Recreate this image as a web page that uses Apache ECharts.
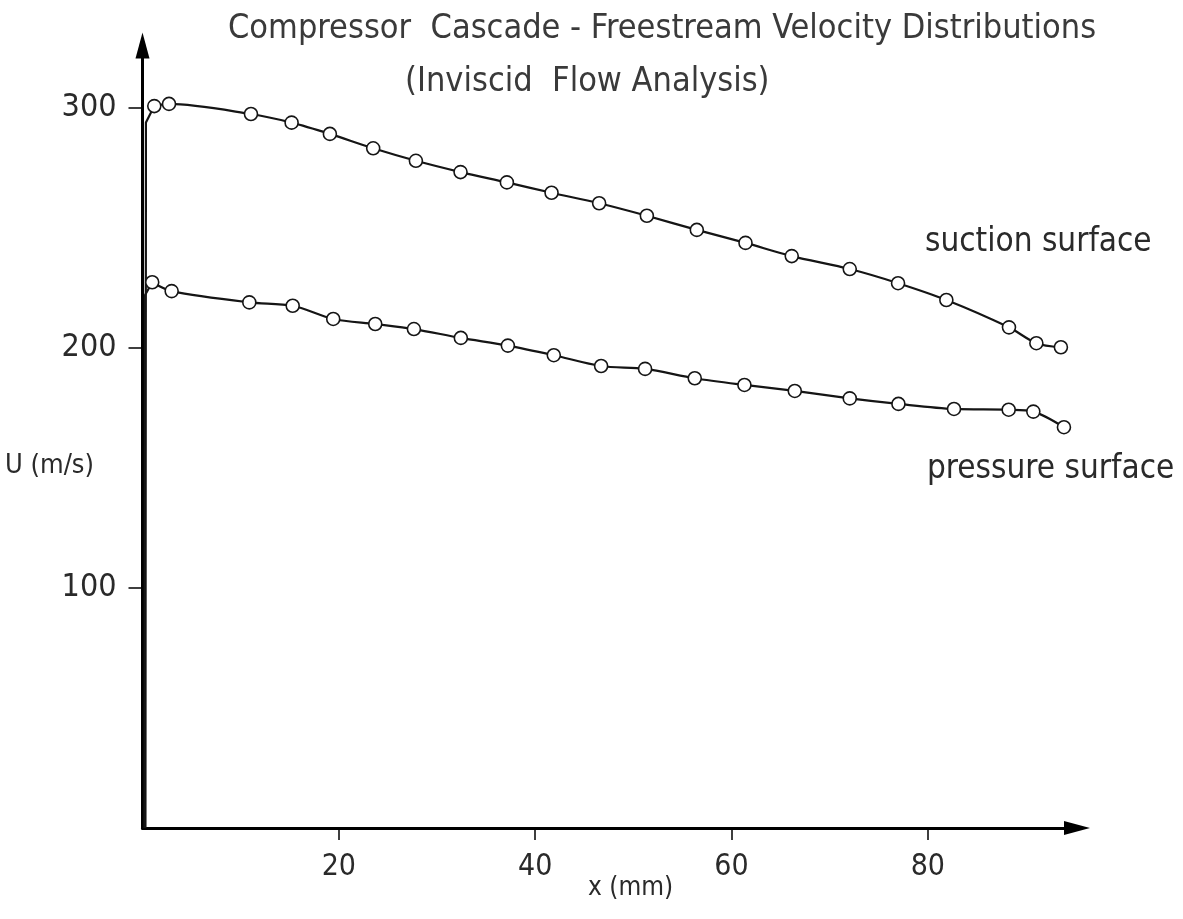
<!DOCTYPE html>
<html>
<head>
<meta charset="utf-8">
<script src="https://cdn.jsdelivr.net/npm/echarts@6/dist/echarts.min.js"></script>
<style>
html,body{margin:0;padding:0;background:#fff;}
#chart{width:1183px;height:919px;}
</style>
</head>
<body>
<div id="chart"></div>
<script>
// ---- data (x in mm, U in m/s) ----
const suctionX = [1.2, 2.7, 11.05, 15.19, 19.09, 23.5, 27.85, 32.4, 37.12, 41.67, 46.52, 51.38, 56.47, 61.43, 66.14, 72.05, 76.97, 81.89, 88.27, 91.06, 93.56];
const suctionU = [300.8, 301.7, 297.5, 293.9, 289.2, 283.2, 278.0, 273.3, 269.0, 264.7, 260.3, 255.1, 249.2, 243.8, 238.3, 232.9, 227.0, 220.0, 208.6, 202.0, 200.3];
const pressureX = [0.99, 2.97, 10.88, 15.3, 19.43, 23.71, 27.65, 32.43, 37.22, 41.9, 46.72, 51.2, 56.26, 61.32, 66.45, 72.05, 77.01, 82.67, 88.24, 90.75, 93.87];
const pressureU = [227.4, 223.7, 219.0, 217.6, 212.1, 210.0, 207.9, 204.2, 201.0, 197.0, 192.5, 191.3, 187.4, 184.6, 182.1, 179.0, 176.7, 174.6, 174.3, 173.5, 167.0];
// leading-edge (stagnation) segments, no markers
const suctionLEX = [0.3, 0.35, 1.2];
const suctionLEU = [0, 294, 300.8];
const pressureLEX = [0.2, 0.25, 0.99];
const pressureLEU = [0, 222, 227.4];
const xTicks = [20, 40, 60, 80];
const yTicks = [100, 200, 300];
const titleText = 'Compressor  Cascade - Freestream Velocity Distributions';
const subtitleText = '(Inviscid  Flow Analysis)';
const xName = 'x (mm)';
const yName = 'U (m/s)';
const suctionName = 'suction surface';
const pressureName = 'pressure surface';

const zip = (a, b) => a.map((v, i) => [v, b[i]]);
const FONT = "'DejaVu Sans Condensed', 'DejaVu Sans', sans-serif";
const INK = '#151515';

const chart = echarts.init(document.getElementById('chart'), null, {renderer: 'canvas'});

const lineStyle = {color: INK, width: 2.2};
const markerSeries = (name, data) => ({
  name: name, type: 'line', data: data, smooth: 0.3,
  symbol: 'circle', symbolSize: 13,
  itemStyle: {color: '#fff', borderColor: INK, borderWidth: 1.6},
  lineStyle: lineStyle, z: 3
});
const leSeries = (data) => ({
  type: 'line', data: data, smooth: false, symbol: 'none',
  lineStyle: lineStyle, z: 2
});

chart.setOption({
  animation: false,
  backgroundColor: '#fff',
  grid: {left: 142.5, right: 106, top: 45.6, bottom: 91},
  xAxis: {
    type: 'value', min: 0, max: 95.2,
    axisLine: {show: true, symbol: ['none', 'triangle'], symbolSize: [14, 26], lineStyle: {color: '#000', width: 3}},
    axisTick: {show: true, customValues: xTicks, length: 12, lineStyle: {color: '#000', width: 1.5}},
    axisLabel: {customValues: xTicks, margin: 24, fontFamily: FONT, fontSize: 30, color: '#2a2a2a'},
    splitLine: {show: false}
  },
  yAxis: {
    type: 'value', min: 0, max: 326,
    axisLine: {show: true, symbol: ['none', 'triangle'], symbolSize: [14, 26], lineStyle: {color: '#000', width: 3}},
    axisTick: {show: true, customValues: yTicks, length: 14, lineStyle: {color: '#000', width: 1.5}},
    axisLabel: {customValues: yTicks, margin: 26, fontFamily: FONT, fontSize: 32, color: '#2a2a2a'},
    splitLine: {show: false}
  },
  graphic: [
    {type: 'text', left: 228, top: 12, style: {text: titleText, font: "34px " + FONT, fill: '#3a3a3a'}},
    {type: 'text', left: 405, top: 65, style: {text: subtitleText, font: "34px " + FONT, fill: '#3a3a3a'}},
    {type: 'text', left: 5, top: 452, style: {text: yName, font: "27px " + FONT, fill: '#2a2a2a'}},
    {type: 'text', left: 588, top: 875, style: {text: xName, font: "26px " + FONT, fill: '#2a2a2a'}},
    {type: 'text', left: 925, top: 226, style: {text: suctionName, font: "33px " + FONT, fill: '#2a2a2a'}},
    {type: 'text', left: 927, top: 453, style: {text: pressureName, font: "33px " + FONT, fill: '#2a2a2a'}}
  ],
  series: [
    leSeries(zip(suctionLEX, suctionLEU)),
    leSeries(zip(pressureLEX, pressureLEU)),
    markerSeries(suctionName, zip(suctionX, suctionU)),
    markerSeries(pressureName, zip(pressureX, pressureU))
  ]
});
</script>
</body>
</html>
